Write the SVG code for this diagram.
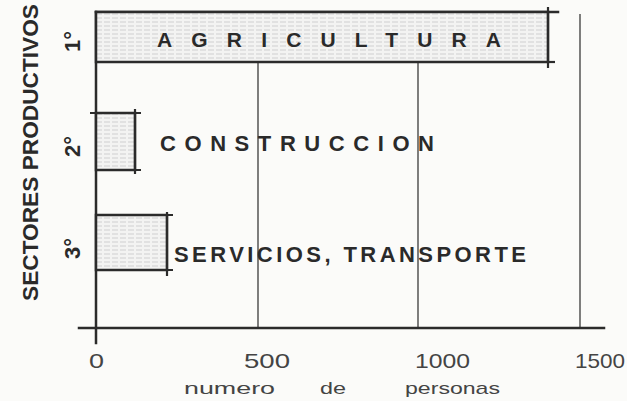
<svg xmlns="http://www.w3.org/2000/svg" width="627" height="401" viewBox="0 0 627 401">
<defs>
<pattern id="hatch" width="8" height="4" patternUnits="userSpaceOnUse">
<rect width="8" height="4" fill="#f3f3f2"/>
<line x1="0" y1="2" x2="6" y2="2" stroke="#d0d0d0" stroke-width="1"/>
</pattern>
<style>
.ax{stroke:#2b2b2b;stroke-width:2.5;fill:none;stroke-linecap:square}
.grid{stroke:#3a3a3a;stroke-width:1.3;fill:none}
.bar{stroke:#2b2b2b;stroke-width:2.5;fill:url(#hatch)}
.tk{stroke:#2b2b2b;stroke-width:2.2;fill:none}
.lab{font-family:"Liberation Sans",Arial,sans-serif;font-weight:bold;fill:#2a2a2a}
.num{font-family:"Liberation Sans",Arial,sans-serif;font-weight:normal;fill:#444}
</style>
</defs>
<rect width="627" height="401" fill="#fbfbf9"/>

<g id="grid">
<line class="grid" x1="258" y1="12" x2="258" y2="328"/>
<line class="grid" x1="418" y1="12" x2="418" y2="328"/>
<line class="grid" x1="580" y1="14" x2="580" y2="328"/>
</g>

<g id="axes">
<line class="ax" x1="96" y1="12" x2="96" y2="343"/>
<line class="ax" x1="79" y1="328" x2="604" y2="328"/>
<line class="ax" x1="96" y1="12" x2="558" y2="12"/>
</g>

<g id="bar-agricultura">
<rect class="bar" x="96" y="12" width="452" height="50"/>
<line class="tk" x1="548" y1="7" x2="548" y2="68"/>
<line class="tk" x1="548" y1="62" x2="555" y2="62"/>
<text class="lab" x="157" y="47" font-size="21" textLength="344" lengthAdjust="spacing">AGRICULTURA</text>
</g>

<g id="bar-construccion">
<rect class="bar" x="96" y="113" width="39" height="57"/>
<line class="tk" x1="90" y1="113" x2="141" y2="113"/>
<line class="tk" x1="135" y1="109" x2="135" y2="174"/>
<line class="tk" x1="96" y1="170" x2="141" y2="170"/>
<text class="lab" x="160" y="151" font-size="22" textLength="274" lengthAdjust="spacing">CONSTRUCCION</text>
</g>

<g id="bar-servicios">
<rect class="bar" x="96" y="215" width="71" height="55"/>
<line class="tk" x1="96" y1="215" x2="173" y2="215"/>
<line class="tk" x1="167" y1="212" x2="167" y2="276"/>
<line class="tk" x1="96" y1="270" x2="173" y2="270"/>
<text class="lab" x="174" y="262" font-size="22" textLength="352" lengthAdjust="spacing">SERVICIOS, TRANSPORTE</text>
</g>

<g id="y-labels">
<text class="lab" font-size="22" transform="translate(38,301) rotate(-90)" textLength="297" lengthAdjust="spacingAndGlyphs">SECTORES PRODUCTIVOS</text>
<text class="lab" font-size="22" transform="translate(80,52) rotate(-90)">1°</text>
<text class="lab" font-size="22" transform="translate(80,157) rotate(-90)">2°</text>
<text class="lab" font-size="22" transform="translate(80,259) rotate(-90)">3°</text>
</g>

<g id="x-labels">
<text class="num" x="89" y="368" font-size="21" textLength="15" lengthAdjust="spacingAndGlyphs">0</text>
<text class="num" x="244" y="368" font-size="21" textLength="46" lengthAdjust="spacingAndGlyphs">500</text>
<text class="num" x="415" y="368" font-size="21" textLength="55" lengthAdjust="spacingAndGlyphs">1000</text>
<text class="num" x="575" y="368" font-size="21" textLength="50" lengthAdjust="spacingAndGlyphs">1500</text>
<text class="num" x="184" y="394" font-size="17" textLength="91" lengthAdjust="spacingAndGlyphs">numero</text>
<text class="num" x="320" y="394" font-size="17" textLength="26" lengthAdjust="spacingAndGlyphs">de</text>
<text class="num" x="405" y="394" font-size="17" textLength="95" lengthAdjust="spacingAndGlyphs">personas</text>
</g>
</svg>
